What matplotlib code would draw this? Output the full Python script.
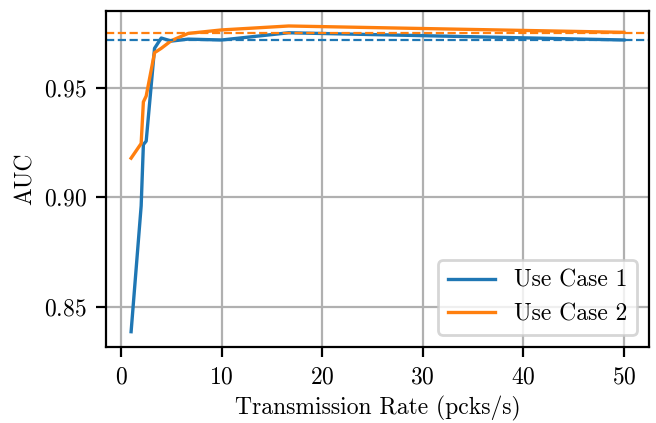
import matplotlib
matplotlib.use("Agg")
import matplotlib.pyplot as plt

rates = [1, 2, 2.22, 2.5, 3.33, 4, 5, 6.67, 10, 16.67, 50]
auc_case1 = [0.8385, 0.896, 0.924, 0.9256, 0.968, 0.9727, 0.9713, 0.9722, 0.9718, 0.9751, 0.9718]
auc_case2 = [0.9178, 0.9245, 0.9435, 0.9462, 0.966, 0.968, 0.9715, 0.9748, 0.9764, 0.9782, 0.9753]
ref_case1 = 0.9718
ref_case2 = 0.9752
labels = ["Use Case 1", "Use Case 2"]

plt.rcParams["font.family"] = "serif"
plt.rcParams["font.serif"] = ["cmr10"]
plt.rcParams["mathtext.fontset"] = "cm"
plt.rcParams["axes.formatter.use_mathtext"] = True
plt.rcParams["font.size"] = 8.5

fig, ax = plt.subplots(figsize=(3.28, 2.115), dpi=200)
fig.subplots_adjust(left=0.1623, right=0.9886, bottom=0.1797, top=0.9747)

ax.plot(rates, auc_case1, color="#1f77b4", lw=1.2, label=labels[0])
ax.plot(rates, auc_case2, color="#ff7f0e", lw=1.2, label=labels[1])
ax.axhline(ref_case1, color="#1f77b4", ls="--", lw=0.8)
ax.axhline(ref_case2, color="#ff7f0e", ls="--", lw=0.8)

ax.set_yticks([0.85, 0.90, 0.95])
ax.set_xticks([0, 10, 20, 30, 40, 50])
ax.grid(True)
ax.set_xlabel("Transmission Rate (pcks/s)", labelpad=2.5)
ax.set_ylabel("AUC", labelpad=2.5)
ax.legend(loc="lower right")

fig.savefig("out.png", dpi=200)
